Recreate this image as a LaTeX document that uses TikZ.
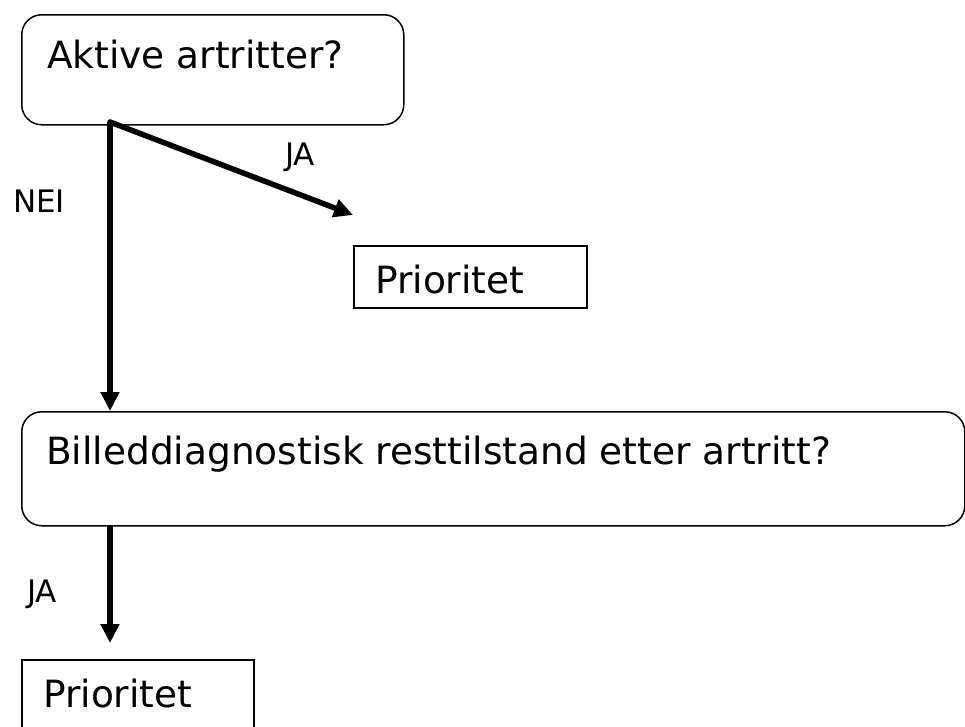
\documentclass[tikz,border=0pt]{standalone}
\usepackage{fontspec}
\setmainfont{DejaVu Sans}
\usetikzlibrary{arrows.meta}
\tikzset{
  rbox/.style={draw=black, line width=1.5pt, rounded corners=20pt, inner sep=0pt, anchor=north west},
  pbox/.style={draw=black, line width=1.5pt, inner sep=0pt, anchor=north west},
  bigtxt/.style={inner sep=0pt, anchor=base west, font=\fontsize{37.5}{45}\selectfont},
  lbl/.style={inner sep=0pt, font=\fontsize{31}{37}\selectfont},
  arr/.style={line width=5.5pt, -{Triangle[length=19pt,width=18pt]}},
}
\begin{document}
\begin{tikzpicture}[x=1pt,y=-1pt]
\clip (0,0) rectangle (965,726);
\fill[white] (0,0) rectangle (965,726);
% boxes
\node[rbox, minimum width=382pt, minimum height=110pt] (box1) at (21,14) {};
\node[bigtxt] (t1) at (47,68) {Aktive artritter?};
\node[pbox, minimum width=233pt, minimum height=62pt] (p1) at (353,245) {};
\node[bigtxt] (tp1) at (375,293) {Prioritet};
\node[rbox, minimum width=943pt, minimum height=114pt] (box2) at (21,411) {};
\node[bigtxt] (t2) at (46,464) {Billeddiagnostisk resttilstand etter artritt?};
\node[pbox, minimum width=232pt, minimum height=90pt] (p2) at (21,659) {};
\node[bigtxt] (tp2) at (43,707) {Prioritet};
% connector points
\coordinate (b1out) at (110,122);
\coordinate (jaend) at (353,215);
\coordinate (b2out) at (110,525);
\coordinate (p2in) at (110,643);
% arrows
\draw[arr, line cap=round] (b1out) -- (jaend);
\draw[arr] (b1out) -- (b1out |- box2.north);
\draw[arr] (b2out) -- (p2in);
% labels
\node[lbl] (lnei) at (39,201) {NEI};
\node[lbl] (lja1) at (300,157) {JA};
\node[lbl] (lja2) at (42,594) {JA};
\end{tikzpicture}
\end{document}
